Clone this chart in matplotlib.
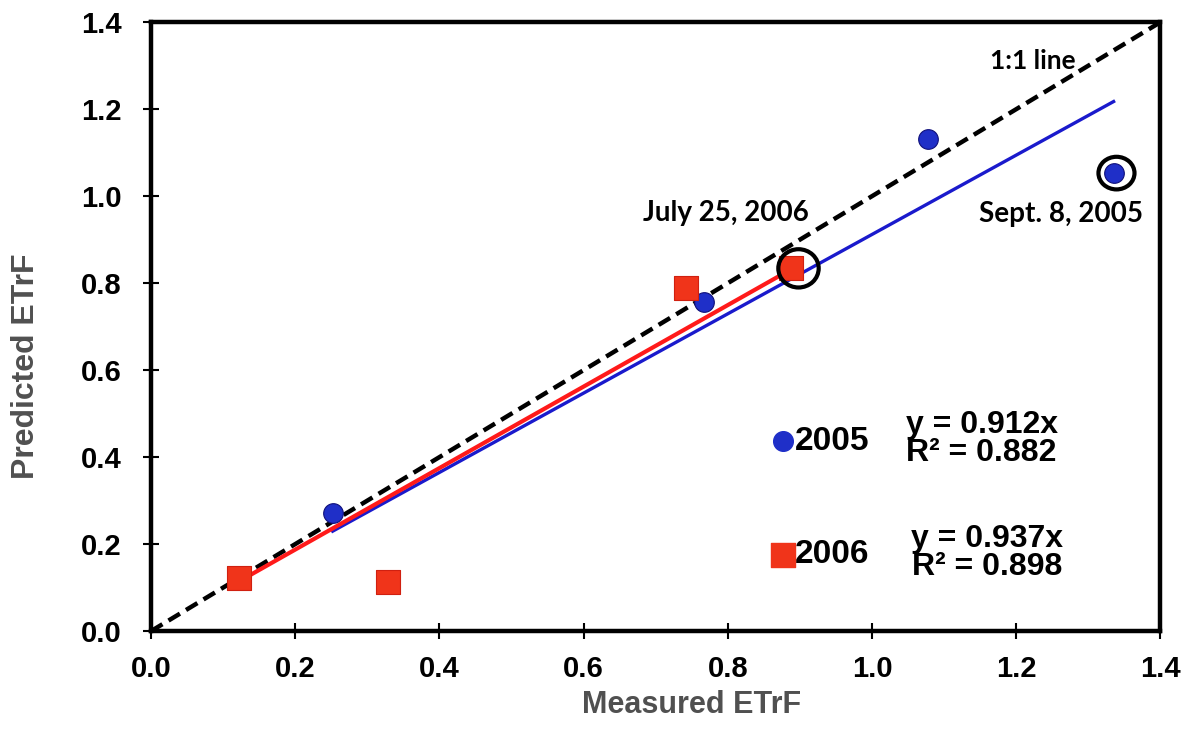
import matplotlib
matplotlib.use('Agg')
import numpy as np
import matplotlib.pyplot as plt
from matplotlib.patches import Ellipse

# measured vs predicted ETrF
x_2005 = [0.252, 0.767, 1.077, 1.335]
y_2005 = [0.271, 0.756, 1.131, 1.053]
x_2006 = [0.122, 0.329, 0.742, 0.887]
y_2006 = [0.122, 0.113, 0.789, 0.834]

slope_2005 = 0.912
slope_2006 = 0.937
r2_2005 = 0.882
r2_2006 = 0.898

ticks = [0.0, 0.2, 0.4, 0.6, 0.8, 1.0, 1.2, 1.4]

plt.rcParams['font.family'] = ['Liberation Sans', 'DejaVu Sans']
plt.rcParams['font.weight'] = 'bold'

fig = plt.figure(figsize=(11.89, 7.39), dpi=100)
ax = fig.add_axes([0.127, 0.146, 0.849, 0.824])

# 1:1 line
ax.plot([0, 1.4], [0, 1.4], color='black', linestyle=(0, (3, 1.6)), linewidth=3.2, zorder=2)

# fitted lines
xb = np.array([min(x_2005), max(x_2005)])
ax.plot(xb, slope_2005 * xb, color='#1a1acc', linewidth=2.4, zorder=3)
xr = np.array([min(x_2006), max(x_2006)])
ax.plot(xr, slope_2006 * xr, color='#ff1a1a', linewidth=3.0, zorder=4)

ax.scatter(x_2005, y_2005, s=200, marker='o', color='#1f2fc8', edgecolors='#10107a',
           linewidths=0.8, zorder=5)
ax.scatter(x_2006, y_2006, s=300, marker='s', color='#f0341a', edgecolors='#d02010',
           linewidths=0.8, zorder=5)

# circled points
ax.add_patch(Ellipse((0.898, 0.834), 0.056, 0.088, fill=False, edgecolor='black',
                     linewidth=3, zorder=6))
ax.add_patch(Ellipse((1.339, 1.053), 0.05, 0.075, fill=False, edgecolor='black',
                     linewidth=3, zorder=6))

ann = ['Lato', 'DejaVu Sans']
ax.text(1.282, 1.31, '1:1 line', family=ann, fontsize=19, fontweight='bold', ha='right', va='center')
ax.text(0.797, 0.961, 'July 25, 2006', family=ann, fontsize=20, fontweight='bold', ha='center', va='center')
ax.text(1.262, 0.958, 'Sept. 8, 2005', family=ann, fontsize=20, fontweight='bold', ha='center', va='center')

# legend-like labels
ax.scatter([0.876], [0.436], s=200, marker='o', color='#1f2fc8', zorder=5, clip_on=False)
ax.text(0.893, 0.436, '2005', fontsize=24, fontweight='bold', va='center')
ax.scatter([0.876], [0.176], s=300, marker='s', color='#f0341a', zorder=5, clip_on=False)
ax.text(0.893, 0.176, '2006', fontsize=24, fontweight='bold', va='center')

ax.text(1.152, 0.442, f'y = {slope_2005}x\nR² = {r2_2005}', fontsize=23,
        fontweight='bold', va='center', ha='center', multialignment='center', linespacing=0.92)
ax.text(1.159, 0.180, f'y = {slope_2006}x\nR² = {r2_2006}', fontsize=23,
        fontweight='bold', va='center', ha='center', multialignment='center', linespacing=0.92)

ax.set_xlim(0, 1.4)
ax.set_ylim(0, 1.4)
ax.set_xticks(ticks)
ax.set_yticks(ticks)
ax.set_xticklabels([f'{t:.1f}' for t in ticks])
ax.set_yticklabels([f'{t:.1f}' for t in ticks])
ax.tick_params(direction='inout', length=12, width=1.5, labelsize=21)
ax.tick_params(axis='x', pad=11)
ax.tick_params(axis='y', pad=15)

for s in ax.spines.values():
    s.set_linewidth(3.2)

ax.set_xlabel('Measured ETrF', fontsize=22, fontweight='bold', color='#505050', va='center')
ax.set_ylabel('Predicted ETrF', fontsize=23, fontweight='bold', color='#505050', va='center')
ax.xaxis.set_label_coords(0.535, -0.121)
ax.yaxis.set_label_coords(-0.124, 0.435)

fig.savefig('out.png', dpi=100)
